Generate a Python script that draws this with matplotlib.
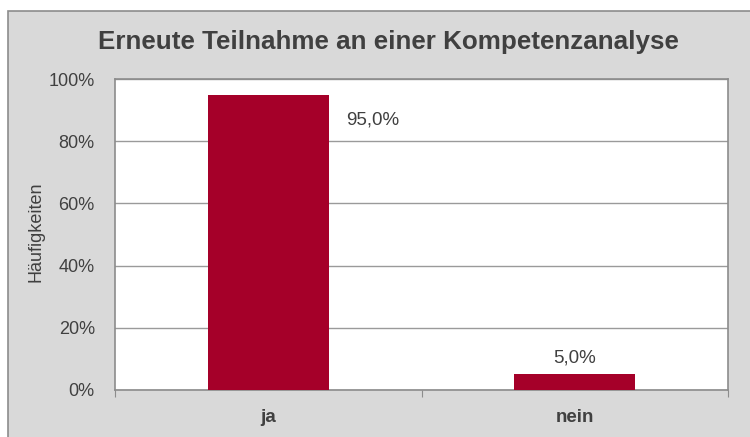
import matplotlib.pyplot as plt
import matplotlib.patches as mpatches
import numpy as np

plt.rcParams['font.family'] = ['Liberation Sans', 'DejaVu Sans']

categories = ['ja', 'nein']
values = [95.0, 5.0]
yticks = [0, 20, 40, 60, 80, 100]

bar_color = '#A50029'
text_color = '#404040'
line_color = '#8C8C8C'

fig = plt.figure(figsize=(7.5, 4.37), dpi=100, facecolor='white')

# grey chart area with border (runs off right and bottom edge)
W, H = 750, 437
bg = mpatches.Rectangle((8 / W, -0.1), 1.0, 1 - 11 / H + 0.1,
                        transform=fig.transFigure, facecolor='#D9D9D9',
                        edgecolor='#8C8C8C', linewidth=1.2, zorder=-5)
fig.patches.append(bg)

ax = fig.add_axes([115 / W, 1 - 390 / H, 613 / W, 311 / H])
ax.set_facecolor('white')
ax.set_zorder(2)

x = np.arange(len(categories))
bars = ax.bar(x, values, width=0.395, color=bar_color, zorder=3)

ax.set_xlim(-0.5, 1.5)
ax.set_ylim(0, 100)
ax.set_yticks(yticks)
ax.set_yticklabels([f'{v}%' for v in yticks], fontsize=13, color=text_color)
ax.tick_params(axis='y', length=0, pad=14.5)
ax.yaxis.grid(True, color='#9A9A9A', linewidth=1.0, zorder=1)
ax.set_axisbelow(True)

ax.set_xticks([-0.5, 0.5, 1.5])
ax.set_xticklabels([])
ax.set_xticks(x, minor=True)
ax.set_xticklabels(categories, minor=True, fontsize=13.5, fontweight='bold', color=text_color)
ax.tick_params(axis='x', which='major', direction='out', length=5, color=line_color)
ax.tick_params(axis='x', which='minor', length=0, pad=14)

for s in ax.spines.values():
    s.set_color(line_color)
    s.set_linewidth(1.2)

ax.set_ylabel('Häufigkeiten', fontsize=13, color=text_color, va='center')
ax.yaxis.set_label_coords(-0.129, 0.51)

# data labels
ax.annotate('95,0%', xy=(x[0] + 0.395 / 2, values[0]), xytext=(17, -25),
            textcoords='offset pixels', ha='left', va='center',
            fontsize=13.5, color=text_color)
ax.annotate('5,0%', xy=(x[1], values[1]), xytext=(0, 16),
            textcoords='offset pixels', ha='center', va='center',
            fontsize=13.5, color=text_color)

fig.text(388 / W, 1 - 42 / H, 'Erneute Teilnahme an einer Kompetenzanalyse',
         ha='center', va='center', fontsize=18.7, fontweight='bold', color=text_color)

fig.savefig('out.png', dpi=100, facecolor='white')
